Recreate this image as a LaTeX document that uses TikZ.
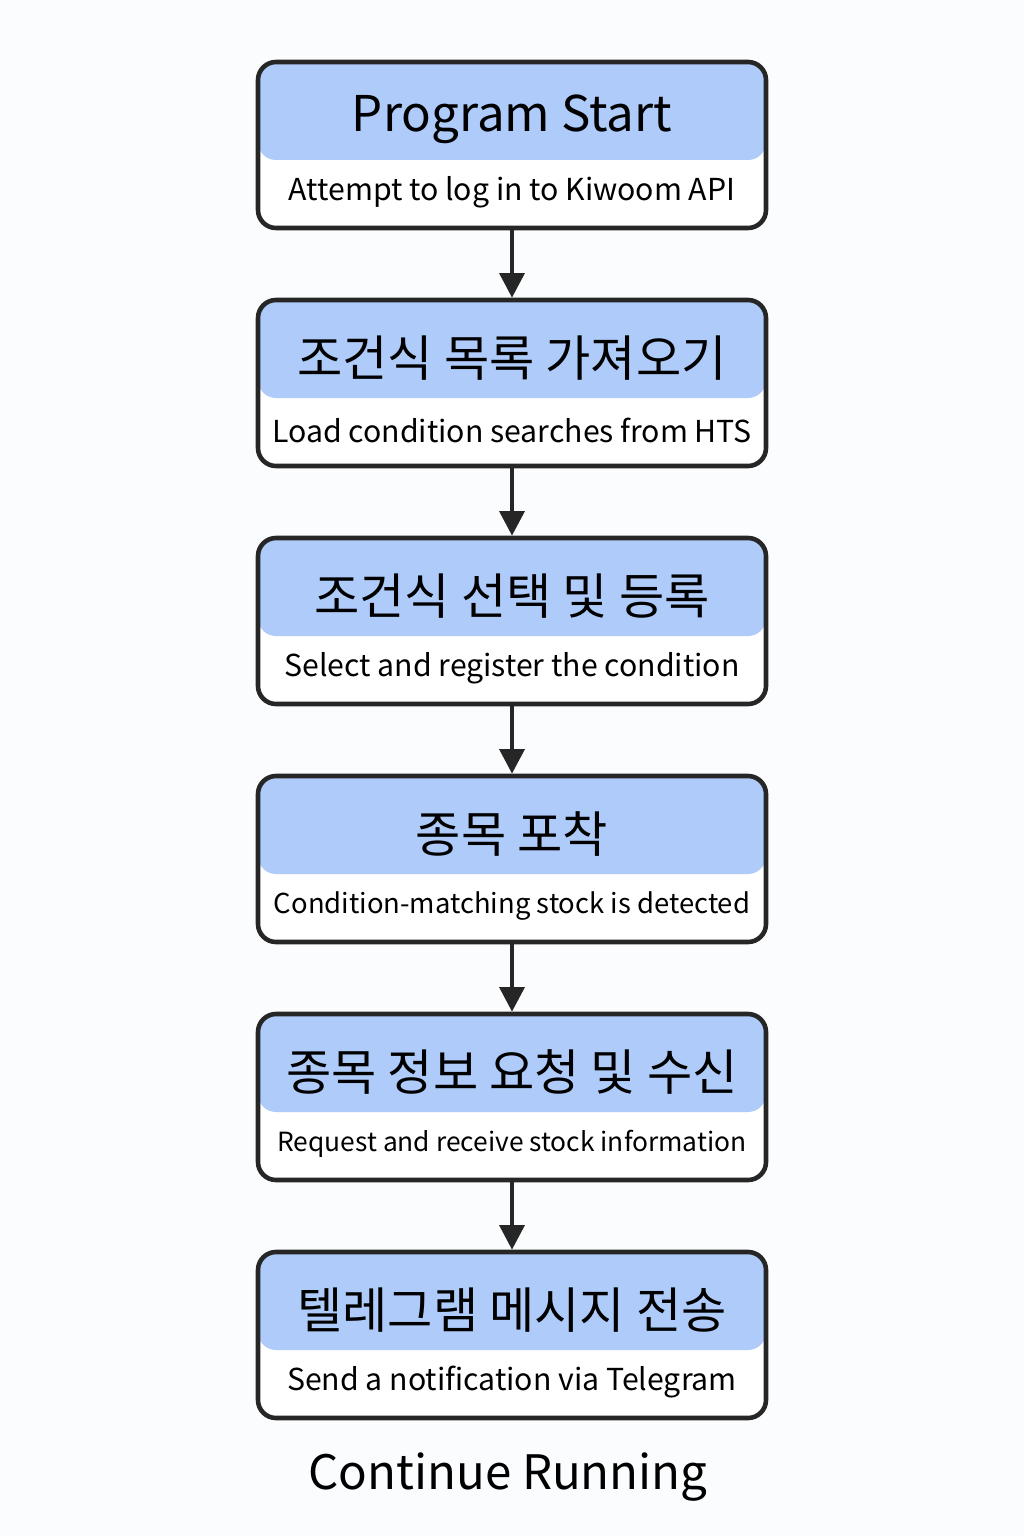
\documentclass[tikz,border=0pt]{standalone}
\usepackage{fontspec}
\setmainfont{Noto Sans CJK KR}
\usetikzlibrary{positioning,arrows.meta}
\definecolor{headblue}{HTML}{AECBFA}
\definecolor{edgegray}{HTML}{262626}
\definecolor{pagebg}{HTML}{FBFCFE}
\tikzset{
  >={Triangle[length=7pt,width=7pt]},
  stepbox/.style={
    rectangle,
    rounded corners=0.18cm,
    draw=edgegray, line width=1.3pt,
    fill=white,
    minimum width=5.08cm,
    minimum height=1.66cm,
    path picture={\fill[headblue] (path picture bounding box.north west) rectangle ([yshift=-0.98cm]path picture bounding box.north east);}},
  headtext/.style={font=\fontsize{14}{16}\selectfont, text=black},
  subtext/.style={font=\fontsize{#1}{10}\selectfont, text=black},
  flow/.style={->, line width=1.3pt, draw=edgegray},
}
\begin{document}
\begin{tikzpicture}
  \fill[pagebg] (0,0) rectangle (10.24,-15.36);
  \useasboundingbox (0,0) rectangle (10.24,-15.36);
  % steps
  \foreach \i/\head/\sub/\fs in {1/Program Start/Attempt to log in to Kiwoom API/8.6,
      2/조건식 목록 가져오기/Load condition searches from HTS/8.6,
      3/조건식 선택 및 등록/Select and register the condition/8.6,
      4/종목 포착/Condition-matching stock is detected/7.8,
      5/종목 정보 요청 및 수신/Request and receive stock information/7.5,
      6/텔레그램 메시지 전송/Send a notification via Telegram/8.6}{
    \node[stepbox] (step\i) at (5.12,{-1.45-2.38*(\i-1)}) {};
    \node[headtext] (head\i) at ([yshift=-0.6cm]step\i.north) {\head};
    \node[subtext=\fs] (sub\i) at ([yshift=0.38cm]step\i.south) {\sub};
  }
  \foreach \i [evaluate=\i as \j using int(\i+1)] in {1,...,5}{
    \draw[flow] (step\i.south) -- (step\j.north);
  }
  \node[headtext, font=\fontsize{13.5}{16}\selectfont] (run) at (5.08,-14.77) {Continue Running};
\end{tikzpicture}
\end{document}
